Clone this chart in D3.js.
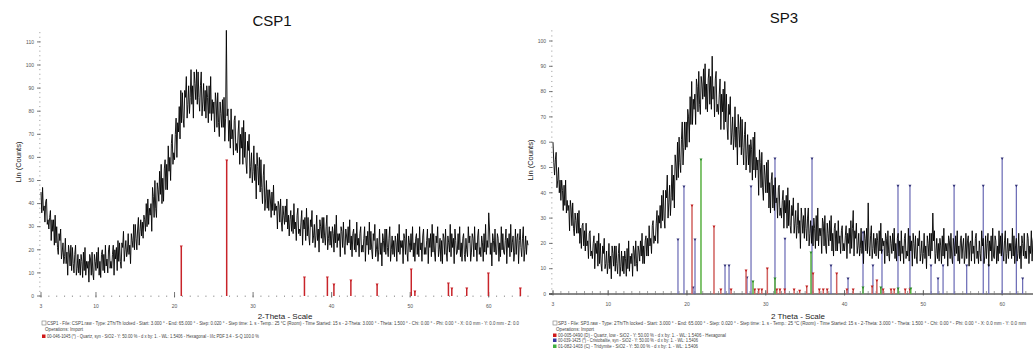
<!DOCTYPE html>
<html><head><meta charset="utf-8">
<script src="https://cdn.jsdelivr.net/npm/d3@7"></script>
<style>body{margin:0;background:#fff}text{font-family:"Liberation Sans",Arial,sans-serif}</style>
</head><body><svg id="c" width="1033" height="351"></svg>
<script>
// ---- data (counts every 0.1 deg 2-theta, from 3.0 to 65.0) ----
const startDeg = 3, stepDeg = 0.1;
const csp1Counts = [
45,36,47,37,39,32,41,42,31,33,
29,34,37,24,33,28,33,22,35,23,
30,21,18,27,24,29,16,19,23,14,
17,25,14,19,9,22,19,13,22,11,
21,14,10,18,22,9,12,18,10,16,
9,18,15,8,19,11,21,9,15,12,
15,6,18,16,9,19,10,7,18,15,
11,19,12,21,9,15,8,18,20,11,
18,10,22,13,16,10,20,22,12,15,
12,18,22,9,20,16,21,11,24,15,
23,15,12,23,21,28,15,20,24,17,
19,27,18,22,14,27,24,21,31,20,
31,25,20,29,34,22,28,33,26,32,
25,35,33,28,40,30,42,31,38,35,
40,28,47,43,34,50,38,34,49,46,
41,54,44,57,40,51,41,55,59,46,
57,46,65,54,60,50,66,70,57,62,
59,70,77,60,75,71,82,68,89,75,
88,77,73,89,86,95,77,83,91,79,
86,98,83,91,77,97,92,85,98,83,
97,86,80,91,97,78,84,92,80,89,
77,91,86,75,91,79,95,76,85,79,
84,71,88,84,73,88,75,69,84,79,
73,85,73,86,67,77,115,78,81,67,
76,64,81,68,72,61,76,78,63,66,
62,71,76,57,70,64,73,57,76,60,
71,58,53,67,63,70,51,56,62,49,
54,65,50,57,42,62,56,48,60,45,
59,47,40,52,57,37,42,50,38,46,
37,46,42,34,45,37,48,35,40,37,
39,29,41,39,32,42,32,28,39,35,
31,39,32,42,29,35,26,33,37,28,
35,27,40,29,32,24,35,38,27,29,
26,32,37,22,33,29,34,24,38,26,
34,26,22,33,30,37,23,26,31,21,
26,35,24,29,19,33,30,25,34,23,
34,26,22,30,35,20,25,30,22,28,
21,30,27,19,31,23,35,21,27,24,
27,17,30,28,21,32,22,18,29,26,
22,30,23,33,20,26,17,27,29,20,
27,19,32,22,25,17,27,30,19,22,
19,25,30,15,26,22,28,18,32,20,
28,20,16,27,24,31,17,20,25,15,
20,29,18,23,13,27,24,19,29,18,
29,21,17,25,30,15,20,26,18,24,
17,26,23,15,27,19,31,18,24,21,
24,14,27,25,18,29,19,15,26,23,
19,27,20,30,17,23,15,25,27,18,
25,17,30,20,23,15,26,29,18,21,
18,24,29,14,25,21,27,17,31,19,
27,19,15,26,23,30,17,20,25,15,
24,14,27,25,18,29,19,15,26,23,
19,31,17,27,21,25,14,29,24,18,
19,27,20,30,17,23,15,25,27,18,
15,25,20,17,30,23,26,15,19,27,
25,17,30,20,23,15,26,29,18,21,
17,26,23,15,27,19,31,18,24,21,
36,29,18,23,13,27,24,19,29,18,
18,27,25,15,23,17,30,20,27,19,
18,24,29,14,25,21,27,17,31,19,
23,26,15,19,29,18,25,27,14,24,
29,21,17,25,30,15,20,26,18,24,
22];
const sp3Counts = [
60,52,47,53,56,42,45,50,40,45,
37,45,41,33,43,35,45,32,37,33,
35,25,37,34,27,36,26,23,32,29,
24,32,24,33,20,26,18,27,28,19,
25,17,28,19,21,14,24,25,15,17,
14,20,23,10,20,16,21,11,24,12,
20,12,9,19,16,22,10,12,17,8,
12,20,10,15,6,19,16,11,19,9,
19,12,8,16,20,7,11,17,9,15,
8,17,14,7,18,10,21,9,15,12,
16,7,19,17,11,21,12,9,19,17,
13,21,15,24,12,19,12,21,23,15,
22,15,27,19,22,16,27,29,20,23,
21,28,33,20,31,28,35,26,39,29,
41,30,26,41,38,47,30,36,43,31,
38,51,37,47,34,55,51,45,60,46,
62,52,48,61,68,51,58,68,57,68,
58,73,70,60,78,67,84,67,77,73,
79,67,85,82,72,88,75,71,86,83,
77,89,78,91,73,83,72,85,89,75,
86,73,94,77,82,70,85,88,72,75,
71,79,85,65,79,72,81,65,84,68,
79,66,61,75,71,78,59,64,70,57,
62,74,58,66,51,71,65,58,70,55,
69,58,51,63,68,49,55,63,51,59,
48,61,57,45,62,49,64,46,54,49,
53,39,57,52,42,56,42,37,51,47,
40,52,40,53,34,44,32,45,48,34,
43,33,46,36,38,30,42,43,31,34,
30,37,41,26,37,32,39,26,42,27,
37,27,24,35,31,38,24,28,33,22,
27,36,24,29,18,34,30,24,31,22,
34,26,21,30,34,19,24,29,20,27,
19,30,26,18,31,21,34,19,26,23,
26,16,30,28,19,31,19,16,28,24,
19,29,21,31,17,24,15,26,28,17,
25,17,29,20,23,16,25,27,17,20,
17,23,27,14,24,20,26,16,29,18,
26,33,15,25,22,28,16,19,24,15,
18,26,16,21,12,25,22,17,26,16,
36,19,15,23,27,14,18,24,16,22,
15,24,21,14,25,17,28,16,22,19,
21,12,24,22,15,25,16,13,23,20,
16,24,17,26,14,20,13,22,24,15,
21,13,25,16,19,12,22,24,14,17,
15,26,13,23,17,21,11,24,20,14,
23,15,12,22,19,25,13,16,21,12,
16,24,14,19,10,23,20,15,24,14,
24,17,32,21,25,12,16,22,14,20,
13,22,19,12,23,15,26,14,20,17,
20,11,23,21,14,24,15,12,22,19,
15,23,16,25,13,19,12,21,23,14,
19,22,12,15,24,14,21,23,11,20,
21,13,25,16,19,12,22,24,14,17,
12,21,16,13,25,19,22,12,15,23,
14,20,24,11,21,17,23,13,26,15,
14,23,21,12,19,13,25,16,23,15,
24,17,13,21,25,12,16,22,14,20,
17,20,14,26,15,23,12,19,22,13,
16,24,14,19,10,23,20,15,24,14,
17,14,24,22,12,19,16,25,13,21,
23,15,12,22,19,25,13,16,21,12,
18];
// reference patterns: [2theta, counts]
const csp1Quartz = [[20.86,21.6],[26.64,58.9],[36.54,8.2],[39.46,8.2],[40.29,5.2],[42.45,6.9],[45.79,5.2],
  [50.14,11.7],[50.6,2.2],[54.87,5.6],[55.3,3.5],[57.2,3.5],[59.96,10],[64.03,3.5]];
const sp3Red = [[20.64,35.2],[23.43,26.9],[24.3,2],[25.6,2],[27.5,9.5],[28.6,2],[29.1,2],[29.5,2],[30.2,10.3],
  [31.4,2],[31.8,2],[32.4,2],[33.6,2],[34.3,1.5],[35.2,3.2],[36.0,8.3],[36.8,2],[37.3,2],[37.8,2],[39.0,8.3],
  [40.3,2],[41.1,2],[43.5,3.2],[44.1,5.5],[44.9,2],[45.9,2],[46.3,2],[47.7,2],[48.3,2]];
const sp3Blue = [[18.86,21.7],[19.62,42.7],[20.77,2.8],[21.02,21.7],[24.83,11.5],[25.34,11.5],[27.62,6.7],
  [28.13,42.7],[31.17,53.8],[32.44,22],[35.87,53.8],[38.28,11.5],[40.44,6.3],[42.34,24.5],[43.6,11.5],
  [44.75,17.4],[46.78,43],[48.3,43],[50.97,11.5],[51.86,6.3],[52.5,11.5],[53.9,43],[55.5,11.5],[57.6,43],
  [58.3,11.5],[60.0,53.8],[61.8,43],[62.6,6.3]];
const sp3Green = [[21.78,53.4],[28.38,5.1],[31.17,6.3],[35.74,16.6],[42.34,2.8],[44.6,2.8],[46.8,2.4],[48.4,2.4]];
const xTickLabels = [3,10,20,30,40,50,60];
const csp1YTicks = [0,10,20,30,40,50,60,70,80,90,100,110];
const sp3YTicks = [0,10,20,30,40,50,60,70,80,90,100];
const csp1Legend = [
  "CSP1 - File: CSP1.raw - Type: 2Th/Th locked - Start: 3.000 ° - End: 65.000 ° - Step: 0.020 ° - Step time: 1. s - Temp.: 25 °C (Room) - Time Started: 15 s - 2-Theta: 3.000 ° - Theta: 1.500 ° - Chi: 0.00 ° - Phi: 0.00 ° - X: 0.0 mm - Y: 0.0 mm - Z: 0.0",
  "Operations: Import",
  "00-046-1045 (*) - Quartz, syn - SiO2 - Y: 50.00 % - d x by: 1. - WL: 1.5406 - Hexagonal - I/Ic PDF 3.4 - S-Q 100.0 %"];
const sp3Legend = [
  "SP3 - File: SP3.raw - Type: 2Th/Th locked - Start: 3.000 ° - End: 65.000 ° - Step: 0.020 ° - Step time: 1. s - Temp.: 25 °C (Room) - Time Started: 15 s - 2-Theta: 3.000 ° - Theta: 1.500 ° - Chi: 0.00 ° - Phi: 0.00 ° - X: 0.0 mm - Y: 0.0 mm",
  "Operations: Import",
  "00-005-0490 (D) - Quartz, low - SiO2 - Y: 50.00 % - d x by: 1. - WL: 1.5406 - Hexagonal",
  "00-039-1425 (*) - Cristobalite, syn - SiO2 - Y: 50.00 % - d x by: 1. - WL: 1.5406",
  "01-082-1403 (C) - Tridymite - SiO2 - Y: 50.00 % - d x by: 1. - WL: 1.5406"];

// ---- drawing ----
const svg = d3.select("#c");
svg.append("rect").attr("width",1033).attr("height",351).attr("fill","#fff");

function panel(cfg){
  const g = svg.append("g");
  const x = d3.scaleLinear().domain([3,65]).range(cfg.xr);
  const y = d3.scaleLinear().domain([0,cfg.ytop]).range(cfg.yr);
  const y0 = y(0);
  g.append("text").attr("x",cfg.titleX).attr("y",cfg.titleY).attr("text-anchor","middle")
    .attr("font-size",15).attr("fill","#111").text(cfg.title);
  const ax = cfg.xr[0]-1;
  const minor = d3.range(0, cfg.ytop+0.1, 2);
  g.selectAll(".ym").data(minor).join("line").attr("x1",ax-1).attr("x2",ax+0.5)
    .attr("y1",d=>y(d)).attr("y2",d=>y(d)).attr("stroke","#999").attr("stroke-width",0.7);
  g.selectAll(".yM").data(cfg.yTicks).join("line").attr("x1",ax-3).attr("x2",ax+0.5)
    .attr("y1",d=>y(d)).attr("y2",d=>y(d)).attr("stroke","#555").attr("stroke-width",0.8);
  g.selectAll(".yl").data(cfg.yTicks).join("text").attr("x",ax-6).attr("y",d=>y(d)+1.7)
    .attr("text-anchor","end").attr("font-size",5).attr("fill","#555").text(d=>d);
  g.append("text").attr("transform",`translate(${cfg.ylabX},${cfg.ylabY}) rotate(-90)`)
    .attr("text-anchor","middle").attr("font-size",7.5).attr("fill","#222").text("Lin (Counts)");
  if(cfg.solidX){
    g.append("line").attr("x1",cfg.xr[0]-4).attr("x2",1033).attr("y1",y0).attr("y2",y0)
      .attr("stroke","#111").attr("stroke-width",1);
  }
  const xm = d3.range(3,66,1);
  g.selectAll(".xm").data(xm).join("line").attr("x1",d=>x(d)).attr("x2",d=>x(d))
    .attr("y1",y0-(cfg.solidX?3:0.5)).attr("y2",y0+1).attr("stroke","#777").attr("stroke-width",0.7);
  g.selectAll(".xM").data(xTickLabels).join("line").attr("x1",d=>x(d)).attr("x2",d=>x(d))
    .attr("y1",y0-4).attr("y2",y0+1.5).attr("stroke","#555").attr("stroke-width",0.8);
  g.selectAll(".xl").data(xTickLabels).join("text").attr("x",d=>x(d)).attr("y",y0+12)
    .attr("text-anchor","middle").attr("font-size",5).attr("fill","#555").text(d=>d);
  g.append("text").attr("x",cfg.xlabX).attr("y",319).attr("text-anchor","middle")
    .attr("font-size",8).attr("fill","#222").text(cfg.xlab);
  cfg.sticks.forEach(s=>{
    const sg = g.append("g");
    sg.selectAll("line").data(s.data).join("line").attr("x1",d=>x(d[0])).attr("x2",d=>x(d[0]))
      .attr("y1",y0).attr("y2",d=>y(d[1])).attr("stroke",s.color).attr("stroke-width",s.w);
    sg.selectAll("path").data(s.data).join("path")
      .attr("d",d=>{const px=x(d[0]),py=y(d[1]);return `M${px-1.5},${py-0.5}L${px+1.5},${py-0.5}L${px},${py+2}Z`;})
      .attr("fill",s.cap);
  });
  const line = d3.line().x((d,i)=>x(startDeg+i*stepDeg)).y(d=>y(d));
  g.append("path").datum(cfg.counts).attr("d",line).attr("fill","none")
    .attr("stroke","#000").attr("stroke-width",0.9).attr("stroke-linejoin","miter");
  const lx = cfg.legX;
  cfg.legend.forEach((t,i)=>{
    const ly = cfg.legY[i];
    const tx = i===1 ? lx+3 : lx+5;
    const tt = g.append("text").attr("x",tx).attr("y",ly).attr("font-size",4.6).attr("fill","#444").text(t);
    if(cfg.legW[i]) tt.attr("textLength",cfg.legW[i]).attr("lengthAdjust","spacingAndGlyphs");
    if(cfg.legC[i]) g.append("rect").attr("x",lx).attr("y",ly-3.5).attr("width",3.5).attr("height",3.5).attr("fill",cfg.legC[i]);
    if(i===0) g.append("rect").attr("x",lx).attr("y",ly-4).attr("width",4).attr("height",4).attr("fill","none").attr("stroke","#777").attr("stroke-width",0.6);
  });
}

panel({title:"CSP1", titleX:272, titleY:26, xr:[41,528], ytop:115, yr:[296,296-115*2.31],
  yTicks:csp1YTicks, ylabX:21, ylabY:162, solidX:false, xlabX:285, xlab:"2-Theta - Scale",
  counts:csp1Counts,
  sticks:[{data:csp1Quartz,color:"#c8242a",cap:"#c8242a",w:1.5}],
  legend:csp1Legend, legX:42, legY:[325,331,338], legW:[472,null,212], legC:[null,null,"#d01818"]});

panel({title:"SP3", titleX:784, titleY:23, xr:[553,553+62*7.88], ytop:105, yr:[294,294-105*2.53],
  yTicks:sp3YTicks, ylabX:533, ylabY:160, solidX:true, xlabX:798, xlab:"2 Theta - Scale",
  counts:sp3Counts,
  sticks:[{data:sp3Blue,color:"#6868b4",cap:"#333377",w:1.2},
          {data:sp3Red,color:"#d0605e",cap:"#c02020",w:1.5},
          {data:sp3Green,color:"#58b040",cap:"#2a8a2a",w:1.5}],
  legend:sp3Legend, legX:553, legY:[325,331,337,342,348], legW:[468,null,168,140,140],
  legC:[null,null,"#d01818","#3838a0","#40b040"]});
</script></body></html>
